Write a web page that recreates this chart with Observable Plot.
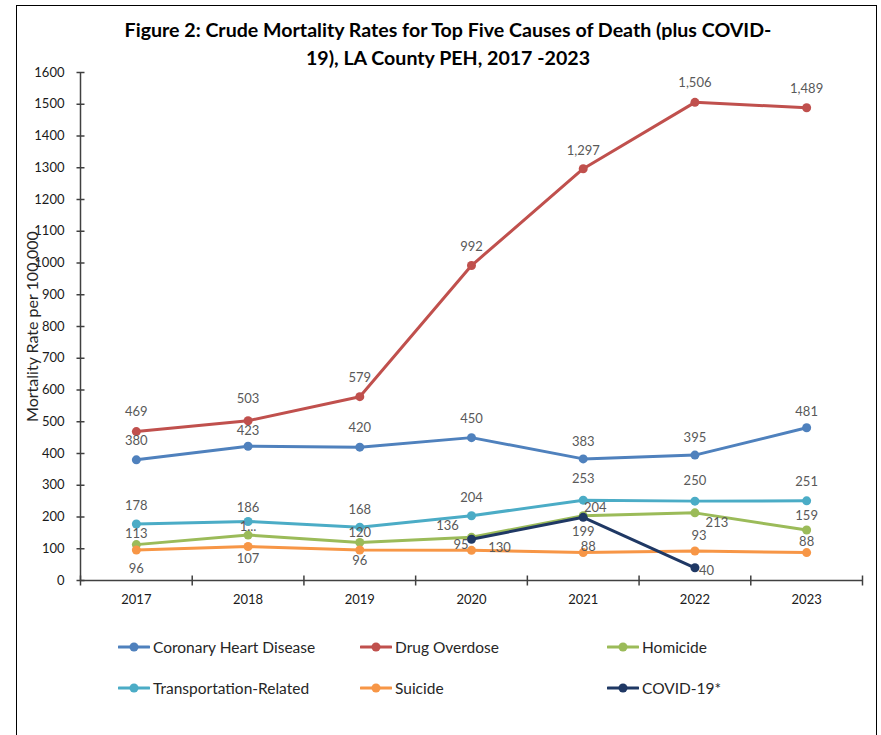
<!DOCTYPE html>
<html><head><meta charset="utf-8">
<script src="https://cdn.jsdelivr.net/npm/d3@7"></script>
<script src="https://cdn.jsdelivr.net/npm/@observablehq/plot@0.6"></script>
<style>
body{margin:0;background:#fff;font-family:Lato,"Open Sans",sans-serif;}
#fig{position:relative;width:881px;height:735px;overflow:hidden;background:#fff}
#frame{position:absolute;left:16px;top:5px;width:861px;height:760px;border:1.5px solid #000;box-sizing:border-box}
#title{position:absolute;left:0;width:896px;top:16px;text-align:center;font-weight:bold;font-size:19.6px;line-height:28px;color:#000}
#chart{position:absolute;left:0;top:60px}
.leg{position:absolute;display:flex;align-items:center;font-size:15.5px;color:#262626;white-space:nowrap}
.leg svg{margin-right:3px}
</style>
</head><body>
<div id="fig">
<div id="frame"></div>
<div id="title">Figure 2: Crude Mortality Rates for Top Five Causes of Death (plus COVID-<br>19), LA County PEH, 2017 -2023</div>
<div id="chart"></div>
<div id="legend"></div>
</div>
<script>
const years = [2017, 2018, 2019, 2020, 2021, 2022, 2023];
const seriesNames = ["Coronary Heart Disease", "Drug Overdose", "Homicide", "Transportation-Related", "Suicide", "COVID-19*"];
const seriesColors = ["#4F81BD", "#C0504D", "#9BBB59", "#4BACC6", "#F79646", "#1F3864"];

const coronary = [380, 423, 420, 450, 383, 395, 481];
const drugOverdose = [469, 503, 579, 992, 1297, 1506, 1489];
const homicide = [113, 143, 120, 136, 204, 213, 159];
const transportation = [178, 186, 168, 204, 253, 250, 251];
const suicide = [96, 107, 96, 95, 88, 93, 88];
const covidYears = [2020, 2021, 2022];
const covid = [130, 199, 40];

const yTicks = [0,100,200,300,400,500,600,700,800,900,1000,1100,1200,1300,1400,1500,1600];
const yLabel = "Mortality Rate per 100,000";
// text shown by data labels that Excel truncated
const homicideLabelText = ["113", "1...", "120", "136", "204", "213", "159"];

// label placement (pixel offsets from each point): [dx, dy, anchor]
const up = [0, -18, "middle"];
const labelPos = {
  "Coronary Heart Disease": [[0,-19,"middle"],[0,-15,"middle"],[0,-19,"middle"],[0,-19,"middle"],[0,-17,"middle"],[0,-17,"middle"],[0,-16,"middle"]],
  "Drug Overdose": [[0,-20,"middle"],[0,-22,"middle"],[0,-19,"middle"],[0,-19,"middle"],[0,-18,"middle"],[0,-20,"middle"],[0,-19,"middle"]],
  "Homicide": [[0,-11,"middle"],[0,-8,"middle"],[0,-10,"middle"],[-24,-11,"middle"],[12,-8,"middle"],[22,10,"middle"],[0,-14,"middle"]],
  "Transportation-Related": [[0,-18,"middle"],[0,-14,"middle"],[0,-17,"middle"],[0,-18,"middle"],[0,-21,"middle"],[0,-20,"middle"],[0,-19,"middle"]],
  "Suicide": [[0,19,"middle"],[0,12,"middle"],[0,11,"middle"],[-3,-6,"end"],[5,-6,"middle"],[4,-15,"middle"],[0,-11,"middle"]],
  "COVID-19*": [[28,9,"middle"],[0,15,"middle"],[4,3,"start"]]
};

const fmt = d3.format(",");
const rows = [];
function addSeries(name, xs, vs, texts) {
  xs.forEach((yr, i) => {
    const p = labelPos[name][i] || up;
    rows.push({series: name, year: yr, value: vs[i], label: texts ? texts[i] : fmt(vs[i]), dx: p[0], dy: p[1], anchor: p[2]});
  });
}
addSeries("Coronary Heart Disease", years, coronary);
addSeries("Drug Overdose", years, drugOverdose);
addSeries("Homicide", years, homicide, homicideLabelText);
addSeries("Transportation-Related", years, transportation);
addSeries("Suicide", years, suicide);
addSeries("COVID-19*", covidYears, covid);

const boundaries = [years[0] - 0.5, ...years.map(y => y + 0.5)];
const axisColor = "#404040";
const vTick = {draw(ctx){ ctx.moveTo(0,-5); ctx.lineTo(0,5); }};
const hTick = {draw(ctx){ ctx.moveTo(-4,0); ctx.lineTo(4,0); }};

const marks = [
  Plot.ruleX([boundaries[0]], {stroke: axisColor, strokeWidth: 1.5}),
  Plot.ruleY([0], {stroke: axisColor, strokeWidth: 1.5}),
  Plot.dot(boundaries, {x: d => d, y: 0, symbol: vTick, stroke: axisColor, strokeWidth: 1.5, fill: "none"}),
  Plot.dot(yTicks, {x: boundaries[0], y: d => d, symbol: hTick, stroke: axisColor, strokeWidth: 1.5, fill: "none"}),
  Plot.axisX(years, {tickSize: 0, tickPadding: 14, tickFormat: d => String(d), fontSize: 13, color: "#1a1a1a", label: null}),
  Plot.axisY(yTicks, {tickSize: 0, tickPadding: 16, tickFormat: d => String(d), fontSize: 13, color: "#1a1a1a", label: null}),
  Plot.text([yLabel], {frameAnchor: "left", textAnchor: "middle", rotate: -90, dx: -48, text: d => d, fontSize: 16, fill: "#262626"})
];
for (const name of seriesNames) {
  const data = rows.filter(r => r.series === name);
  marks.push(Plot.line(data, {x: "year", y: "value", stroke: "series", strokeWidth: 3, strokeLinejoin: "round", strokeLinecap: "round"}));
  marks.push(Plot.dot(data, {x: "year", y: "value", fill: "series", r: 4.5, stroke: "none"}));
}
for (const r of rows) {
  marks.push(Plot.text([r], {x: "year", y: "value", text: "label", dx: r.dx, dy: r.dy, textAnchor: r.anchor, fontSize: 13, fill: "#595959"}));
}

const chart = Plot.plot({
  width: 881,
  height: 560,
  marginLeft: 80,
  marginRight: 19,
  marginTop: 12,
  marginBottom: 40,
  style: {fontFamily: "Lato, 'Open Sans', sans-serif", background: "transparent", overflow: "visible"},
  x: {type: "linear", domain: [boundaries[0], boundaries[boundaries.length - 1]], axis: null},
  y: {domain: [0, 1600], axis: null},
  color: {domain: seriesNames, range: seriesColors},
  marks
});
document.getElementById("chart").appendChild(chart);

// legend
const legPos = [[118, 647], [360, 647], [607, 647], [118, 688], [360, 688], [607, 688]];
const leg = document.getElementById("legend");
seriesNames.forEach((name, i) => {
  const div = document.createElement("div");
  div.className = "leg";
  div.style.left = legPos[i][0] + "px";
  div.style.top = (legPos[i][1] - 10) + "px";
  div.style.height = "20px";
  div.innerHTML = `<svg width="32" height="12"><line x1="1" y1="6" x2="31" y2="6" stroke="${seriesColors[i]}" stroke-width="3" stroke-linecap="round"/><circle cx="16" cy="6" r="4.5" fill="${seriesColors[i]}"/></svg><span>${name}</span>`;
  leg.appendChild(div);
});
</script>
</body></html>
